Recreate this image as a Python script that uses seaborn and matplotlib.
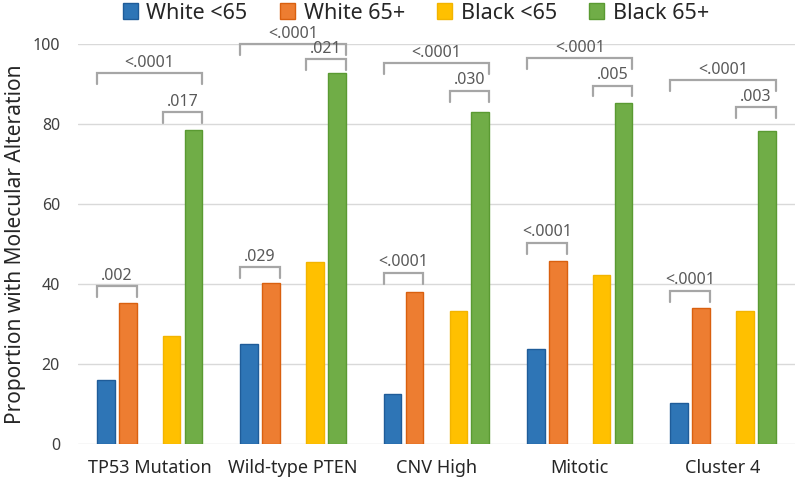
import matplotlib
matplotlib.use("Agg")
import matplotlib.pyplot as plt
from matplotlib.patches import Patch
from matplotlib.colors import to_rgba
import seaborn as sns
import pandas as pd
import numpy as np

# ---- data ----
categories = ["TP53 Mutation", "Wild-type PTEN", "CNV High", "Mitotic", "Cluster 4"]
series_names = ["White <65", "White 65+", "Black <65", "Black 65+"]
white_lt65 = [16.0, 24.9, 12.4, 23.8, 10.2]
white_65 = [35.2, 40.2, 37.9, 45.8, 34.1]
black_lt65 = [27.1, 45.4, 33.2, 42.2, 33.2]
black_65 = [78.4, 92.8, 83.1, 85.2, 78.2]

# significance annotations
p_white = [".002", ".029", "<.0001", "<.0001", "<.0001"]       # White <65 vs White 65+
p_black = [".017", ".021", ".030", ".005", ".003"]              # Black <65 vs Black 65+
p_overall = ["<.0001", "<.0001", "<.0001", "<.0001", "<.0001"]  # White <65 vs Black 65+
h_white = [39.5, 44.2, 42.8, 50.3, 38.3]
h_black = [82.9, 96.2, 88.3, 89.6, 84.2]
h_overall = [92.7, 100.0, 95.2, 96.4, 91.0]

y_ticks = [0, 20, 40, 60, 80, 100]
y_label = "Proportion with Molecular Alteration"

colors = {"White <65": "#2E75B6", "White 65+": "#ED7D31",
          "Black <65": "#FFC000", "Black 65+": "#70AD47"}
edges = {"White <65": "#1F5C99", "White 65+": "#D9600F",
         "Black <65": "#F2B400", "Black 65+": "#5A9A32"}

SPACER = "spacer"
rows = []
for i, c in enumerate(categories):
    for name, vals in zip(series_names, [white_lt65, white_65, black_lt65, black_65]):
        rows.append({"category": c, "group": name, "value": vals[i]})
df = pd.DataFrame(rows)
hue_order = ["White <65", "White 65+", SPACER, "Black <65", "Black 65+"]
palette = dict(colors)
palette[SPACER] = "#FFFFFF"

sns.set_style("white")
plt.rcParams["font.family"] = ["Noto Sans", "DejaVu Sans"]
text_color = "#262626"
grey = "#A6A6A6"

fig = plt.figure(figsize=(8, 4.84), dpi=100)
ax = fig.add_axes([0.0975, 0.0826, 0.896, 0.8264])

sns.barplot(data=df, x="category", y="value", hue="group", order=categories,
            hue_order=hue_order, palette=palette, width=0.765, gap=0.2,
            dodge=True, legend=False, errorbar=None, ax=ax, linewidth=1.0,
            saturation=1, edgecolor="none", zorder=3)

# per-series edge colours and bar lookup (match by nearest face colour)
bars = {n: [] for n in series_names}
ref = {n: np.array(to_rgba(colors[n])[:3]) for n in series_names}
for p in ax.patches:
    if p.get_height() <= 0 or p.get_width() <= 0:
        continue
    fc = np.array(p.get_facecolor()[:3])
    n = min(series_names, key=lambda k: np.abs(ref[k] - fc).sum())
    p.set_edgecolor(edges[n])
    p.set_linewidth(1.0)
    bars[n].append(p)
for n in series_names:
    bars[n].sort(key=lambda p: p.get_x())

ax.set_ylim(0, 100)
ax.set_yticks(y_ticks)
ax.set_xlim(-0.5, len(categories) - 0.5)
ax.grid(axis="y", color="#D9D9D9", linewidth=1.0, zorder=0)
ax.set_axisbelow(True)
for s in ax.spines.values():
    s.set_visible(False)
ax.tick_params(axis="both", length=0)
ax.tick_params(axis="x", pad=11, labelsize=13, labelcolor=text_color)
ax.tick_params(axis="y", pad=13, labelsize=11.5, labelcolor="#404040")
ax.set_xlabel("")
ax.set_ylabel(y_label, fontsize=15, color=text_color)
ax.yaxis.set_label_coords(-0.072, 0.5)


def bracket(x0, x1, top, label):
    leg = 2.7
    ax.plot([x0, x0, x1, x1], [top - leg, top, top, top - leg], color=grey,
            lw=1.6, clip_on=False, zorder=4, solid_joinstyle="miter")
    ax.text((x0 + x1) / 2, top + 2.6, label, ha="center", va="center",
            fontsize=11.5, color="#595959", clip_on=False, zorder=5)


for i in range(min(len(bars[n]) for n in series_names)):
    bw = bars["White <65"][i]
    ow = bars["White 65+"][i]
    yb = bars["Black <65"][i]
    gb = bars["Black 65+"][i]
    bracket(bw.get_x(), ow.get_x() + ow.get_width(), h_white[i], p_white[i])
    bracket(yb.get_x(), gb.get_x() + gb.get_width(), h_black[i], p_black[i])
    bracket(bw.get_x(), gb.get_x() + gb.get_width(), h_overall[i], p_overall[i])

handles = [Patch(facecolor=colors[n], edgecolor=edges[n], label=n) for n in series_names]
fig.legend(handles=handles, loc="center", bbox_to_anchor=(0.52, 0.973), ncol=4,
           frameon=False, fontsize=15.5, handlelength=0.7, handleheight=0.7,
           handletextpad=0.4, columnspacing=1.5, labelcolor=text_color)

fig.savefig("out.png", dpi=100)
